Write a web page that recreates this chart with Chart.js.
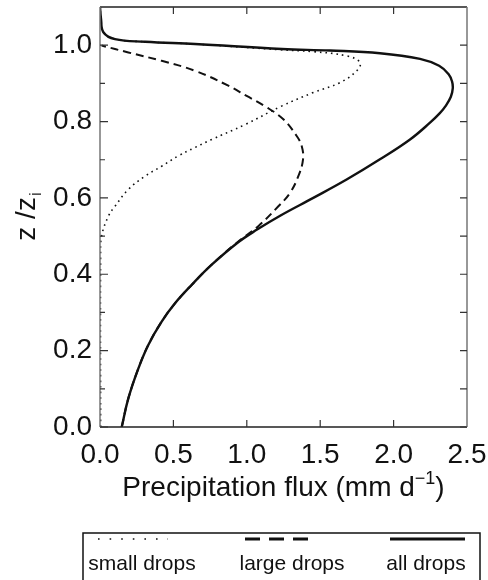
<!DOCTYPE html>
<html>
<head>
<meta charset="utf-8">
<script src="https://cdn.jsdelivr.net/npm/chart.js@4"></script>
<style>
  html, body { margin: 0; padding: 0; background: #fff; }
  #wrap { width: 488px; height: 580px; }
</style>
</head>
<body>
<div id="wrap"><canvas id="fluxChart" width="488" height="580"></canvas></div>
<script>
// profiles of precipitation flux against normalised height z/zi
const seriesNames = ['small drops', 'large drops', 'all drops'];

const zSmall = [0.00, 0.45, 0.50, 0.552, 0.578, 0.622, 0.657, 0.683, 0.71, 0.732, 0.753, 0.792, 0.841, 0.876, 0.902, 0.933, 0.955, 0.972, 0.983, 0.988, 1.003, 1.009, 1.016, 1.034, 1.069, 1.10];
const fluxSmall = [0.004, 0.004, 0.011, 0.057, 0.102, 0.193, 0.307, 0.42, 0.533, 0.647, 0.761, 0.988, 1.24, 1.453, 1.635, 1.749, 1.771, 1.68, 1.453, 1.226, 0.647, 0.307, 0.102, 0.023, 0.007, 0.0];

const zLarge = [0.00, 0.075, 0.153, 0.215, 0.276, 0.324, 0.372, 0.425, 0.482, 0.526, 0.578, 0.613, 0.657, 0.701, 0.736, 0.762, 0.806, 0.841, 0.867, 0.894, 0.933, 0.959, 0.981, 0.999];
const fluxLarge = [0.148, 0.193, 0.261, 0.329, 0.42, 0.511, 0.624, 0.76, 0.93, 1.078, 1.215, 1.294, 1.351, 1.383, 1.374, 1.34, 1.249, 1.12, 0.999, 0.874, 0.647, 0.42, 0.193, 0.011];

const zAll = [0.00, 0.075, 0.153, 0.215, 0.276, 0.324, 0.372, 0.425, 0.482, 0.517, 0.554, 0.60, 0.648, 0.701, 0.753, 0.797, 0.822, 0.841, 0.865, 0.887, 0.905, 0.924, 0.946, 0.964, 0.979, 0.986, 0.990, 1.003, 1.009, 1.016, 1.034, 1.069, 1.10];
const fluxAll = [0.148, 0.193, 0.261, 0.329, 0.42, 0.511, 0.624, 0.761, 0.935, 1.07, 1.23, 1.453, 1.68, 1.907, 2.112, 2.248, 2.315, 2.355, 2.39, 2.403, 2.398, 2.375, 2.31, 2.18, 1.907, 1.567, 1.24, 0.647, 0.307, 0.102, 0.023, 0.007, 0.0];

const xTickValues = [0, 0.5, 1.0, 1.5, 2.0, 2.5];
const yTickValues = [0, 0.2, 0.4, 0.6, 0.8, 1.0];
const yMinorValues = [0.1, 0.3, 0.5, 0.7, 0.9];

const FONT = "'Liberation Sans', Arial, Helvetica, sans-serif";
const INK = '#111';

// legend samples are drawn coarser than the curves
const legendDash = [[1.6, 10], [15, 9], []];
const legendWidth = [1.6, 3, 3];

function toPoints(zs, fs) {
  return zs.map((z, i) => ({ x: fs[i], y: z }));
}

// no extra room for tick labels beyond the axis ends
function noOverhang(s) {
  s.paddingTop = 0; s.paddingBottom = 0;
  s.paddingLeft = 0; s.paddingRight = 0;
}

// frame, inward ticks, axis titles and the boxed legend under the plot
const decorations = {
  id: 'decorations',
  afterDraw(chart) {
    const { ctx, chartArea: { left, right, top, bottom }, scales: { x, y } } = chart;
    ctx.save();

    // frame
    ctx.lineWidth = 1.5;
    ctx.strokeStyle = '#222';
    ctx.beginPath();
    ctx.moveTo(left, bottom); ctx.lineTo(right, bottom);
    ctx.moveTo(left, top); ctx.lineTo(right, top);
    ctx.stroke();
    ctx.strokeStyle = '#777';
    ctx.beginPath();
    ctx.moveTo(left, top); ctx.lineTo(left, bottom);
    ctx.moveTo(right, top); ctx.lineTo(right, bottom);
    ctx.stroke();

    // ticks pointing into the plot
    ctx.strokeStyle = '#333';
    ctx.lineWidth = 1.2;
    ctx.beginPath();
    xTickValues.forEach(v => {
      const px = x.getPixelForValue(v);
      if (px <= left + 1 || px >= right - 1) return;
      ctx.moveTo(px, bottom); ctx.lineTo(px, bottom - 7);
      ctx.moveTo(px, top); ctx.lineTo(px, top + 7);
    });
    yTickValues.forEach(v => {
      const py = y.getPixelForValue(v);
      ctx.moveTo(left, py); ctx.lineTo(left + 8, py);
      ctx.moveTo(right, py); ctx.lineTo(right - 7, py);
    });
    yMinorValues.forEach(v => {
      const py = y.getPixelForValue(v);
      ctx.moveTo(left, py); ctx.lineTo(left + 5, py);
      ctx.moveTo(right, py); ctx.lineTo(right - 7, py);
    });
    ctx.stroke();

    // x title with superscript
    ctx.fillStyle = INK;
    ctx.textBaseline = 'alphabetic';
    ctx.font = '28px ' + FONT;
    const main = 'Precipitation flux (mm d';
    const sup = '\u22121';
    const close = ')';
    const wMain = ctx.measureText(main).width;
    const wClose = ctx.measureText(close).width;
    ctx.font = '18px ' + FONT;
    const wSup = ctx.measureText(sup).width;
    const cx = (left + right) / 2;
    let tx = cx - (wMain + wSup + wClose) / 2;
    const base = 496;
    ctx.font = '28px ' + FONT;
    ctx.textAlign = 'left';
    ctx.fillText(main, tx, base);
    tx += wMain;
    ctx.font = '18px ' + FONT;
    ctx.fillText(sup, tx, base - 12);
    tx += wSup;
    ctx.font = '28px ' + FONT;
    ctx.fillText(close, tx, base);

    // y title z / z_i, rotated
    ctx.save();
    ctx.translate(35, (top + bottom) / 2);
    ctx.rotate(-Math.PI / 2);
    ctx.font = '28px ' + FONT;
    const yMain = 'z /z';
    const wy = ctx.measureText(yMain).width;
    ctx.font = '17px ' + FONT;
    const wi = ctx.measureText('i').width;
    const ty = -(wy + wi) / 2;
    ctx.font = '28px ' + FONT;
    ctx.fillText(yMain, ty, 0);
    ctx.font = '17px ' + FONT;
    ctx.fillText('i', ty + wy + 1, 6);
    ctx.restore();

    // legend box, samples above the labels
    ctx.strokeStyle = INK;
    ctx.lineWidth = 1.5;
    ctx.strokeRect(83, 533, 397, 60);
    const slots = [
      { x0: 98, x1: 168, tx: 142 },
      { x0: 245, x1: 309, tx: 292 },
      { x0: 390, x1: 465, tx: 426 }
    ];
    ctx.font = '21px ' + FONT;
    ctx.textAlign = 'center';
    chart.data.datasets.forEach((ds, k) => {
      const s = slots[k];
      ctx.save();
      ctx.strokeStyle = ds.borderColor;
      ctx.lineWidth = legendWidth[k];
      ctx.setLineDash(legendDash[k]);
      ctx.beginPath();
      ctx.moveTo(s.x0, 539);
      ctx.lineTo(s.x1, 539);
      ctx.stroke();
      ctx.restore();
      ctx.fillText(ds.label, s.tx, 570);
    });

    ctx.restore();
  }
};

const ctx = document.getElementById('fluxChart').getContext('2d');
new Chart(ctx, {
  type: 'scatter',
  data: {
    datasets: [
      {
        label: seriesNames[0],
        data: toPoints(zSmall, fluxSmall),
        borderColor: INK,
        borderWidth: 1.6,
        borderDash: [1.6, 4],
        order: 1
      },
      {
        label: seriesNames[1],
        data: toPoints(zLarge, fluxLarge),
        borderColor: INK,
        borderWidth: 2,
        borderDash: [8, 5],
        order: 2
      },
      {
        label: seriesNames[2],
        data: toPoints(zAll, fluxAll),
        borderColor: INK,
        borderWidth: 2.4,
        order: 0
      }
    ]
  },
  options: {
    responsive: false,
    animation: false,
    showLine: true,
    elements: {
      point: { radius: 0, hoverRadius: 0 },
      line: { tension: 0.4, fill: false }
    },
    layout: { padding: { top: 7, right: 21, left: 0, bottom: 0 } },
    plugins: {
      legend: { display: false },
      tooltip: { enabled: false }
    },
    scales: {
      x: {
        type: 'linear',
        min: 0,
        max: 2.5,
        afterBuildTicks: s => { s.ticks = xTickValues.map(v => ({ value: v })); },
        afterFit: s => { s.height = 153; noOverhang(s); },
        grid: { display: false, drawTicks: false },
        border: { display: false },
        ticks: {
          color: INK,
          padding: 11,
          maxRotation: 0,
          font: { family: FONT, size: 28 },
          callback: v => v.toFixed(1)
        }
      },
      y: {
        type: 'linear',
        min: 0,
        max: 1.1,
        afterBuildTicks: s => { s.ticks = yTickValues.map(v => ({ value: v })); },
        afterFit: s => { s.width = 100; noOverhang(s); },
        grid: { display: false, drawTicks: false },
        border: { display: false },
        ticks: {
          color: INK,
          padding: 8,
          font: { family: FONT, size: 28 },
          callback: v => v.toFixed(1)
        }
      }
    }
  },
  plugins: [decorations]
});
</script>
</body>
</html>
